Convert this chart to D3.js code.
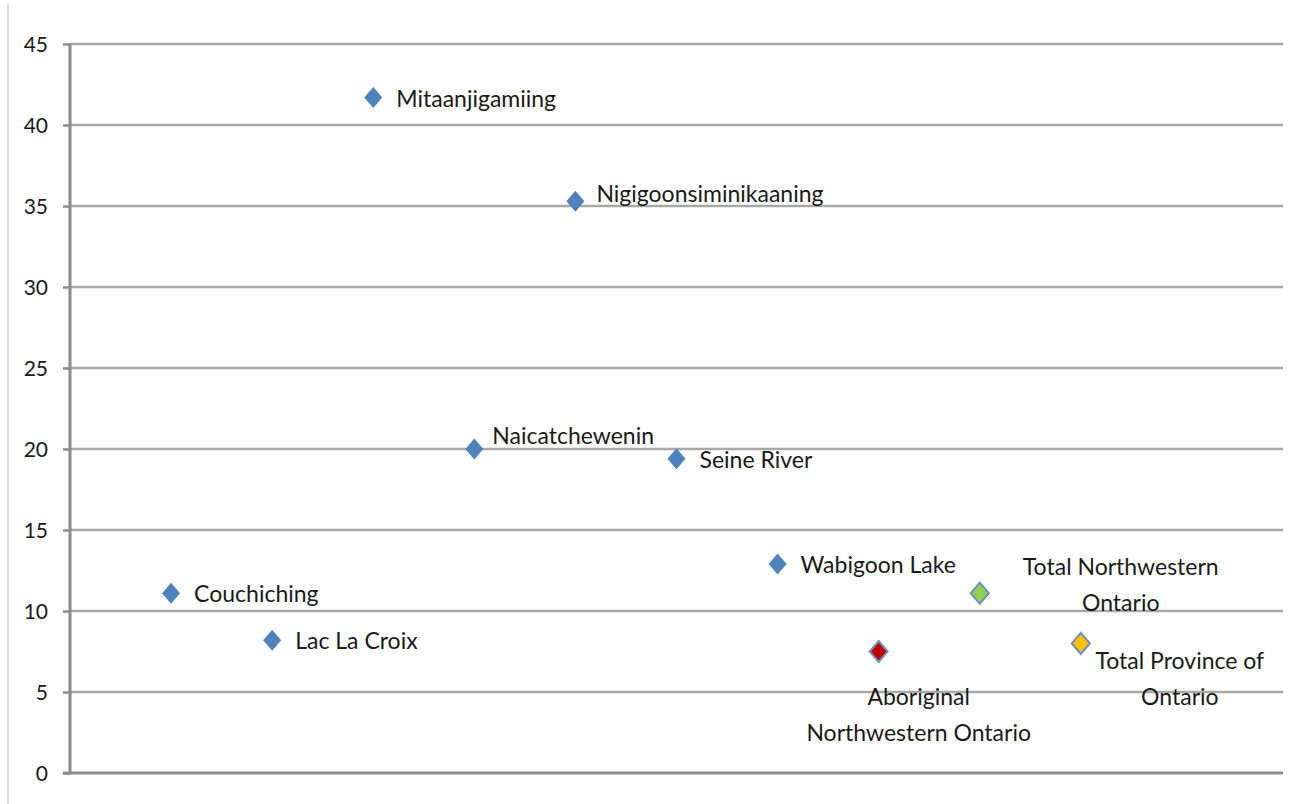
<html>
<head>
	<meta charset="utf-8">
	<title>Communities scatter</title>
	<script src="https://cdn.jsdelivr.net/npm/d3@7"></script>
	<style>
		body { margin: 0; background: #fff; }
		text { font-family: Lato, "Open Sans", sans-serif; fill: #1a1a1a; }
	</style>
</head>
<body>
	<svg id="chart" width="1306" height="804"></svg>
	<script>
		// values
		const communities = ["Couchiching", "Lac La Croix", "Mitaanjigamiing", "Naicatchewenin",
			"Nigigoonsiminikaaning", "Seine River", "Wabigoon Lake",
			"Aboriginal Northwestern Ontario", "Total Northwestern Ontario", "Total Province of Ontario"];
		const labelLines = [["Couchiching"], ["Lac La Croix"], ["Mitaanjigamiing"], ["Naicatchewenin"],
			["Nigigoonsiminikaaning"], ["Seine River"], ["Wabigoon Lake"],
			["Aboriginal", "Northwestern Ontario"], ["Total Northwestern", "Ontario"], ["Total Province of", "Ontario"]];
		const rates = [11.1, 8.2, 41.7, 20.0, 35.3, 19.4, 12.9, 7.5, 11.1, 8.0];
		const yTicks = [0, 5, 10, 15, 20, 25, 30, 35, 40, 45];

		// marker fill per point
		const fills = ["#4F81BD", "#4F81BD", "#4F81BD", "#4F81BD", "#4F81BD", "#4F81BD", "#4F81BD",
			"#C00000", "#92D050", "#FFC000"];

		// label placement (dx, dy of the first line centre, anchor)
		const labelPlace = {
			"Naicatchewenin": [18, -13, "start"],
			"Nigigoonsiminikaaning": [21, -7, "start"],
			"Aboriginal Northwestern Ontario": [40, 45, "middle"],
			"Total Northwestern Ontario": [141, -26, "middle"],
			"Total Province of Ontario": [99, 18, "middle"]
		};

		const svg = d3.select("#chart");
		const plotL = 70, plotR = 1283, plotT = 44, plotB = 773;

		const x = d3.scaleLinear().domain([0, 12]).range([plotL, plotR]);
		const y = d3.scaleLinear().domain([0, 45]).range([plotB, plotT]);

		// thin frame line at the far left
		svg.append("line")
			.attr("x1", 8).attr("x2", 8).attr("y1", 4).attr("y2", 804)
			.attr("stroke", "#d4d4d4").attr("stroke-width", 1.5);

		// gridlines
		svg.append("g").selectAll("line")
			.data(yTicks.filter(d => d > 0))
			.enter().append("line")
			.attr("x1", plotL).attr("x2", plotR)
			.attr("y1", d => y(d)).attr("y2", d => y(d))
			.attr("stroke", "#a8a8a8").attr("stroke-width", 2.5);

		// y axis
		const yAxis = d3.axisLeft(y).tickValues(yTicks).tickSize(7).tickPadding(15);
		const ga = svg.append("g").attr("transform", `translate(${plotL},0)`).call(yAxis);
		ga.select(".domain").remove();
		ga.selectAll(".tick line").attr("stroke", "#8c8c8c").attr("stroke-width", 2.5);
		ga.selectAll(".tick text")
			.style("font-family", "Lato, sans-serif")
			.style("font-size", "21px")
			.attr("fill", "#1a1a1a")
			.attr("dy", "0.35em");

		// axis lines
		svg.append("line")
			.attr("x1", plotL).attr("x2", plotL).attr("y1", plotT - 1).attr("y2", plotB)
			.attr("stroke", "#8c8c8c").attr("stroke-width", 3);
		svg.append("line")
			.attr("x1", plotL - 7).attr("x2", plotR).attr("y1", plotB).attr("y2", plotB)
			.attr("stroke", "#8c8c8c").attr("stroke-width", 3);

		// points
		const pts = svg.append("g").selectAll("g")
			.data(communities)
			.enter().append("g")
			.attr("transform", (d, i) => `translate(${x(i + 1)},${y(rates[i])})`);

		pts.append("path")
			.attr("d", "M0,-10.5L9,0L0,10.5L-9,0Z")
			.attr("fill", (d, i) => fills[i])
			.attr("stroke", (d, i) => i > 6 ? "#6f8fbf" : "none")
			.attr("stroke-width", 2);

		pts.each(function (d, i) {
			const p = labelPlace[d] || [23, 1, "start"];
			const t = d3.select(this).append("text")
				.attr("text-anchor", p[2])
				.style("font-size", "23px");
			labelLines[i].forEach((ln, k) => {
				t.append("tspan")
					.attr("x", p[0])
					.attr("y", p[1] + k * 36)
					.attr("dy", "0.35em")
					.text(ln);
			});
		});
	</script>
</body>
</html>
